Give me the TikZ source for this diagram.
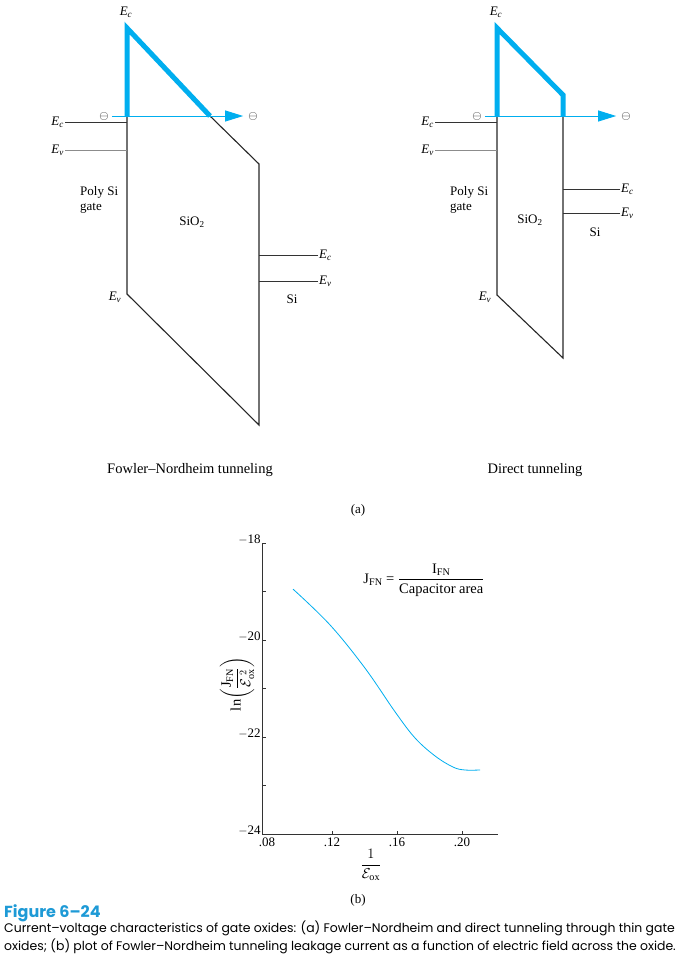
\documentclass[tikz,border=0pt]{standalone}
\usepackage{fontspec}
\usepackage{amsmath}
\usepackage{tikz}
\usetikzlibrary{arrows.meta,calc}
\setmainfont{Liberation Serif}
\newfontfamily\capfont{Poppins}
\definecolor{tunblue}{HTML}{00AEEF}
\definecolor{capblue}{HTML}{1E9AD6}
\newcommand\Ec{\textit{E}\textsubscript{\textit{c}}}
\newcommand\Ev{\textit{E}\textsubscript{\textit{v}}}

\begin{document}
\begin{tikzpicture}[x=1pt,y=-1pt,
  font=\fontsize{13}{15}\selectfont,
  wall/.style={draw=black!85,line width=1.1pt,line join=miter},
  lvl/.style={draw=black!80,line width=0.7pt},
  vlvl/.style={draw=black!45,line width=1pt},
  barrier/.style={draw=tunblue,line width=5pt},
  tunnel/.style={draw=tunblue,line width=0.9pt,-{Triangle[length=18pt,width=11pt]}},
  elec/.style={inner sep=0pt,font=\fontsize{12.5}{12}\selectfont},
  lbl/.style={inner sep=1pt},
  sub/.style={lbl,font=\fontsize{14.5}{16}\selectfont},
  big/.style={lbl,font=\fontsize{14.5}{16}\selectfont},
  axis/.style={draw=black!80,line width=0.9pt},
  tick/.style={draw=black!80,line width=0.7pt},
  ivcurve/.style={draw=tunblue,line width=0.8pt}]

\useasboundingbox (0,0) rectangle (683,959);

% (a) left: Fowler-Nordheim
\coordinate (fngate) at (127,116);
\coordinate (fnsub) at (259,164);
\draw[barrier] (fngate) -- (127,28) -- (210,116);
\draw[wall] (210,116) -- (fnsub) -- (259,425) -- (127,294) -- (fngate);
\node[lbl] (fnEctop) at (126,12) {\Ec};
\node[lbl,anchor=east] (fnEcL) at (65,122) {\Ec};
\node[lbl,anchor=east] (fnEvL) at (65,150) {\Ev};
\draw[lvl] (fnEcL.east) -- (fnEcL.east -| fngate);
\draw[vlvl] (fnEvL.east) -- (fnEvL.east -| fngate);
\node[lbl,anchor=west] (fnEcR) at (318,255) {\Ec};
\node[lbl,anchor=west] (fnEvR) at (318,281) {\Ev};
\draw[lvl] (fnEcR.west) -- (fnEcR.west -| fnsub);
\draw[lvl] (fnEvR.west) -- (fnEvR.west -| fnsub);
\node[lbl] (fnEvB) at (115,297) {\Ev};
\node[lbl,anchor=west,align=left] (fnpoly) at (79,200) {Poly Si\\gate};
\node[lbl] (fnox) at (192,222) {SiO\textsubscript{2}};
\node[lbl] (fnsi) at (292,299) {Si};
\node[elec] (fnin) at (104,116) {$\ominus$};
\node[elec] (fnout) at (253,116) {$\ominus$};
\draw[tunnel,shorten <=3pt,shorten >=5pt] (fnin) -- (fnout);
\node[sub] (fncap) at (190,470) {Fowler–Nordheim tunneling};

% (a) right: direct
\coordinate (dtgate) at (497,116);
\coordinate (dtsub) at (563,116);
\draw[barrier] (dtgate) -- (497,28) -- (563,95) -- (dtsub);
\draw[wall] (dtgate) -- (497,295) -- (563,358) -- (dtsub);
\node[lbl] (dtEctop) at (496,12) {\Ec};
\node[lbl,anchor=east] (dtEcL) at (435,122) {\Ec};
\node[lbl,anchor=east] (dtEvL) at (435,150) {\Ev};
\draw[lvl] (dtEcL.east) -- (dtEcL.east -| dtgate);
\draw[vlvl] (dtEvL.east) -- (dtEvL.east -| dtgate);
\node[lbl,anchor=west] (dtEcR) at (620,189) {\Ec};
\node[lbl,anchor=west] (dtEvR) at (620,213) {\Ev};
\draw[lvl] (dtEcR.west) -- (dtEcR.west -| dtsub);
\draw[lvl] (dtEvR.west) -- (dtEvR.west -| dtsub);
\node[lbl] (dtEvB) at (485,297) {\Ev};
\node[lbl,anchor=west,align=left] (dtpoly) at (449,200) {Poly Si\\gate};
\node[lbl] (dtox) at (530,220) {SiO\textsubscript{2}};
\node[lbl] (dtsi) at (595,232) {Si};
\node[elec] (dtin) at (477,116) {$\ominus$};
\node[elec] (dtout) at (626,116) {$\ominus$};
\draw[tunnel,shorten <=3pt,shorten >=5pt] (dtin) -- (dtout);
\node[sub] (dtcap) at (535,470) {Direct tunneling};

\node[lbl] (parta) at (358,510) {(a)};

% (b) ln(J/E^2) against 1/E
\begin{scope}[shift={(137,-330)},x=1625pt,y=48.5pt]
  \draw[axis] (0.0775,-18) -- (0.0775,-24) -- (0.222,-24);
  \foreach \t in {-18,...,-23}
    \draw[tick] (0.0775,\t) -- ++(3pt,0);
  \foreach \t in {18,20,22,24}
    \node[lbl,anchor=base east] at ($(0.0775,-\t)+(-1pt,0)$) {$-$\t};
  \foreach \v in {0.12,0.16,0.20}
    \draw[tick] (\v,-24) -- ++(0,3pt);
  \foreach \v/\s in {0.08/.08,0.12/.12,0.16/.16,0.20/.20}
    \node[lbl,anchor=north] at ($(\v,-24)+(0,-3pt)$) {\s};
  \draw[ivcurve] plot[smooth,tension=0.6] coordinates {
    (0.0960,-18.95) (0.1188,-19.69) (0.1403,-20.58) (0.1588,-21.48)
    (0.1711,-22.02) (0.1834,-22.39) (0.1945,-22.62) (0.2018,-22.68)
    (0.2111,-22.68)};
\end{scope}
\node[big] (jfn) at (424,580) {J\textsubscript{FN} = $\dfrac{\text{I\textsubscript{FN}}}{\text{Capacitor area}}$};
\node[big,rotate=90] (ylab) at (237,684) {ln$\left(\dfrac{\text{J}_{\text{FN}}}{\mathcal{E}_{\text{ox}}^{\;2}}\right)$};
\node[big] (xlab) at (371,865) {$\dfrac{1}{\mathcal{E}_{\text{ox}}}$};
\node[lbl] (partb) at (358,900) {(b)};

% caption
\node[anchor=west,inner sep=0pt,font=\capfont\bfseries\fontsize{16}{16}\selectfont,text=capblue] (figno) at (4,913) {Figure 6–24};
\node[anchor=north west,inner sep=0pt,align=left,font=\capfont\fontsize{12.45}{18}\selectfont] (captxt) at (4,921)
  {Current–voltage characteristics of gate oxides: (a) Fowler–Nordheim and direct tunneling through thin gate\\
   oxides; (b) plot of Fowler–Nordheim tunneling leakage current as a function of electric field across the oxide.};
\end{tikzpicture}
\end{document}
